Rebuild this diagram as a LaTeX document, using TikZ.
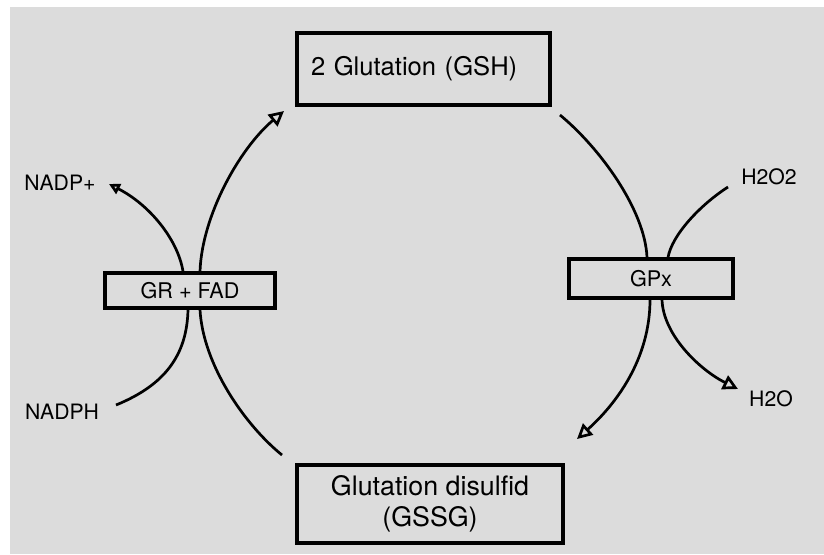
\documentclass[tikz,border=0pt]{standalone}
\usepackage{fontspec}
\setmainfont{TeX Gyre Heros}
\usetikzlibrary{arrows.meta}
\def\picwidth{824}
\def\picheight{554}
\definecolor{paper}{HTML}{DCDCDC}

\begin{document}
\begin{tikzpicture}[x=0.5pt, y=-0.5pt,
    molbox/.style={draw=black, line width=1.7pt, fill=paper, inner sep=0pt},
    enzbox/.style={draw=black, line width=1.6pt, fill=paper, inner sep=0pt,
      font=\fontsize{10.8}{13}\selectfont},
    chem/.style={inner sep=0pt, font=\fontsize{10.6}{12}\selectfont},
    flow/.style={line width=1.35pt, black},
    tip/.style={-{Triangle[open, length=7.5pt, width=7.5pt]}},
    smalltip/.style={-{Triangle[open, length=5.5pt, width=5.5pt]}}]
    % Paper.
    \useasboundingbox (0,0) rectangle (\picwidth,\picheight);
    \fill[white] (0,0) rectangle (\picwidth,\picheight);
    \fill[paper] (10,7) rectangle (\picwidth,\picheight);
    % Molecules.
    \node[molbox, minimum width=126.5pt, minimum height=36pt,
      text width=112.5pt, inner xsep=7pt, align=left,
      font=\fontsize{12.8}{15}\selectfont] (gsh) at (423.5,69) {2 Glutation (GSH)};
    \node[molbox, minimum width=133pt, minimum height=39pt, align=center,
      font=\fontsize{13.4}{15.5}\selectfont] (gssg) at (430,504) {Glutation disulfid\\(GSSG)};
    % Enzymes.
    \node[enzbox, minimum width=85pt, minimum height=17.5pt] (gr) at (190,290.5) {GR + FAD};
    \node[enzbox, minimum width=82pt, minimum height=19.5pt] (gpx) at (651,278.5) {GPx};
    % Cofactors.
    \node[chem] (nadp) at (60,183) {NADP+};
    \node[chem] (nadph) at (62,412) {NADPH};
    \node[chem] (hoh2) at (769,177) {H2O2};
    \node[chem] (hoh) at (771,399) {H2O};
    % Free ends.
    \coordinate (gsh-in) at (284,111);
    \coordinate (gsh-out) at (560,115);
    \coordinate (gssg-in) at (577,439);
    \coordinate (gssg-out) at (282,455);
    \coordinate (nadp-in) at (109,184);
    \coordinate (nadph-out) at (116,405);
    \coordinate (hoh2-out) at (728,187);
    \coordinate (hoh-in) at (738,389);
    % Left half of the cycle.
    \draw[flow] (gssg-out) .. controls (245,425) and (203,365) .. ([xshift=5pt]gr.south);
    \draw[flow, tip] ([xshift=5pt]gr.north) .. controls (202,215) and (240,148) .. (gsh-in);
    \draw[flow] (nadph-out) .. controls (165,385) and (187,355) .. ([xshift=-1pt]gr.south);
    \draw[flow, smalltip] ([xshift=-3.5pt]gr.north) .. controls (178,240) and (150,205) .. (nadp-in);
    % Right half of the cycle.
    \draw[flow] (gsh-out) .. controls (600,148) and (645,210) .. ([xshift=-2pt]gpx.north);
    \draw[flow, tip] ([xshift=-0.5pt]gpx.south) .. controls (650,360) and (615,405) .. (gssg-in);
    \draw[flow] (hoh2-out) .. controls (700,205) and (672,235) .. ([xshift=8.5pt]gpx.north);
    \draw[flow, tip] ([xshift=5.5pt]gpx.south) .. controls (663,335) and (700,370) .. (hoh-in);
\end{tikzpicture}
\end{document}
